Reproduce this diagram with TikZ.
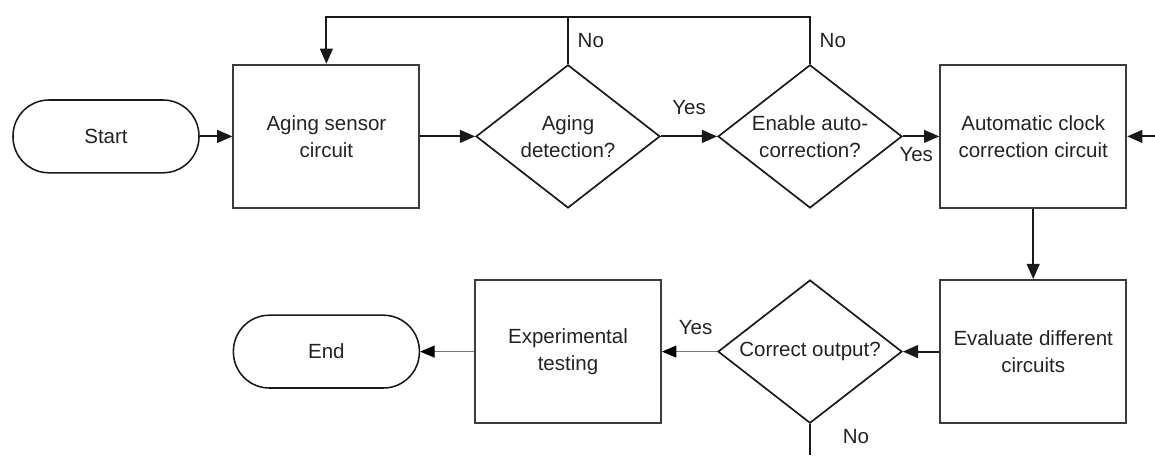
\documentclass[tikz,border=0pt]{standalone}
\usepackage{fontspec}
\setmainfont{Liberation Sans}
\usetikzlibrary{shapes.geometric, arrows.meta, positioning}
\definecolor{outline}{RGB}{60, 60, 60}
\definecolor{wire}{RGB}{25, 25, 25}
\definecolor{thinwire}{RGB}{120, 120, 120}
\definecolor{txt}{RGB}{35, 35, 35}

\begin{document}
\begin{tikzpicture}[
    font=\fontsize{14.6}{19}\selectfont, text=txt,
    block/.style={rectangle, draw=outline, line width=1.4pt, minimum width=4.65cm,
                  minimum height=3.58cm, align=center, inner sep=0pt},
    decision/.style={diamond, shape aspect=1.285, draw=wire, line width=1.2pt,
                  minimum width=4.6cm, minimum height=3.58cm, align=center, inner sep=0pt},
    terminal/.style={rectangle, rounded corners=0.9cm, draw=wire, line width=1.1pt,
                  minimum width=4.65cm, minimum height=1.82cm},
    flow/.style={-{Triangle[length=0.38cm, width=0.32cm]}, line width=1.3pt, draw=wire},
    line/.style={line width=1.3pt, draw=wire},
    thinflow/.style={-{Triangle[length=0.36cm, width=0.3cm, color=black]}, line width=0.7pt, draw=thinwire},
    lbl/.style={inner sep=0.1cm}]

    \useasboundingbox (0, 0) rectangle (28.875, -11.375);

    % Top row
    \node[terminal] (start) at (2.65, -3.41) {Start};
    \node[block] (sensor) at (8.16, -3.41) {Aging sensor\\circuit};
    \node[decision] (detect) at (14.2, -3.41) {Aging\\detection?};
    \node[decision] (enable) at (20.25, -3.41) {Enable auto-\\correction?};
    \node[block] (autoclk) at (25.83, -3.41) {Automatic clock\\correction circuit};

    % Bottom row
    \node[block] (evaluate) at (25.83, -8.79) {Evaluate different\\circuits};
    \node[decision] (check) at (20.25, -8.79) {Correct output?};
    \node[block] (testing) at (14.2, -8.79) {Experimental\\testing};
    \node[terminal] (end) at (8.16, -8.79) {End};

    % Free ends
    \coordinate (top) at (8.16, -0.43);
    \coordinate (feedin) at (28.875, -3.41);
    \coordinate (feedout) at (20.25, -11.375);

    % Arrows
    \draw[flow] (start) -- (sensor);
    \draw[flow] (sensor) -- (detect);
    \draw[flow] (detect) -- node[lbl, above=0.42cm]{Yes} (enable);
    \draw[flow] (enable) -- node[lbl, below=0.14cm, xshift=-0.12cm]{Yes} (autoclk);
    \draw[flow] (feedin) -- (autoclk);
    \draw[flow] (autoclk) -- (evaluate);
    \draw[flow] (evaluate) -- (check);
    \draw[thinflow] (check) -- node[lbl, above=0.3cm, xshift=0.15cm]{Yes} (testing);
    \draw[thinflow] (testing) -- (end);

    % Loops back
    \draw[flow] (detect.north) -- node[lbl, right=0.12cm]{No} (detect.north |- top) -| (sensor.north);
    \draw[line] (enable.north) -- node[lbl, right=0.12cm]{No} (enable.north |- top) -- (detect.north |- top);
    \draw[line] (check.south) -- node[lbl, right=0.7cm, yshift=0.08cm]{No} (feedout);
\end{tikzpicture}
\end{document}
